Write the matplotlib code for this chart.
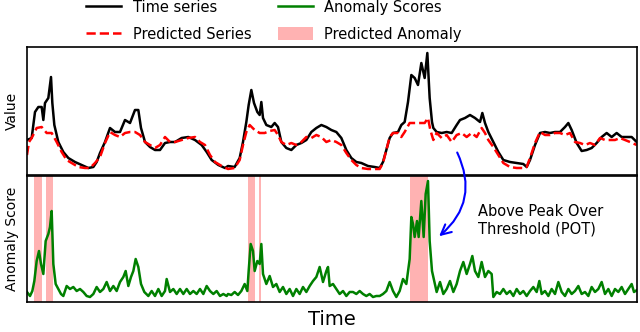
import numpy as np
import matplotlib
matplotlib.use("Agg")
import matplotlib.pyplot as plt
from matplotlib.lines import Line2D
from matplotlib.patches import Patch

# Time series (arbitrary units)
t_true = [0, 14, 24, 34, 44, 49, 54, 64, 72, 76, 82, 94, 109, 124, 144, 164, 184, 199, 209, 219,
          234, 249, 264, 279, 294, 309, 324, 334, 342, 354, 369, 384, 399, 414, 429, 444, 464, 484, 504, 524,
          539, 554, 574, 594,
          603, 623, 638, 648, 658, 665, 673, 681, 691, 698, 703, 708, 718, 733, 743, 753, 763, 778, 793, 808,
          823, 838, 853, 868, 883, 898, 913, 928, 943, 958, 973, 988, 1003, 1023, 1043, 1058, 1068, 1078, 1088, 1098,
          1113, 1123, 1133, 1143, 1153, 1163, 1173, 1183, 1193, 1201, 1208, 1215,
          1219, 1229, 1244, 1259, 1274, 1289, 1299, 1314, 1329, 1344, 1359, 1366, 1374, 1384, 1399, 1414, 1429, 1449,
          1469, 1489, 1499, 1509, 1524, 1539, 1554, 1569, 1584, 1599, 1614, 1624, 1634, 1649, 1664, 1679, 1694, 1709,
          1724, 1739, 1754, 1769, 1784, 1799, 1814, 1829]
v_true = [35, 37, 63, 68, 68, 55, 72, 77, 98, 72, 50, 33, 23, 17, 13, 10, 7, 8, 13, 22,
          33, 47, 43, 43, 55, 52, 65, 65, 47, 33, 28, 25, 25, 32, 33, 33, 37, 38, 35, 30,
          23, 15, 10, 7,
          9, 8, 17, 33, 53, 70, 85, 72, 63, 60, 73, 57, 50, 48, 52, 48, 33, 27, 25, 30,
          32, 35, 43, 47, 50, 48, 45, 43, 37, 25, 17, 13, 12, 9, 8, 7, 13, 25, 37, 42,
          43, 50, 53, 73, 100, 97, 90, 112, 97, 122, 77, 53,
          47, 43, 42, 43, 42, 50, 55, 57, 60, 57, 53, 62, 52, 43, 33, 23, 15, 13,
          12, 11, 8, 15, 30, 42, 43, 42, 43, 43, 48, 52, 45, 32, 24, 25, 27, 32,
          38, 42, 38, 42, 38, 38, 38, 33]

t_pred = [0, 6, 14, 29, 44, 59, 74, 89, 104, 119, 134, 154, 174, 189, 204, 219, 234, 249, 264, 279,
          294, 309, 324, 339, 354, 369, 384, 399, 414, 429, 444, 464, 484, 504, 519, 534, 549, 564, 584,
          603, 623, 638, 648, 658, 668, 683, 698, 713, 728, 743, 753, 763, 778, 793, 808, 823, 838, 853, 868,
          883, 898, 913, 928, 943, 958, 973, 988, 1003, 1023, 1043, 1058, 1068, 1078, 1088, 1098, 1113, 1123, 1133, 1148,
          1163, 1178, 1193, 1203, 1210,
          1219, 1229, 1244, 1259, 1274, 1289, 1304, 1319, 1334, 1349, 1364, 1374, 1384, 1399, 1414, 1429, 1449, 1469,
          1489, 1499, 1509, 1524, 1539, 1554, 1569, 1584, 1599, 1614, 1629, 1644, 1659, 1674, 1689, 1704, 1719, 1734,
          1749, 1764, 1779, 1794, 1809, 1829]
v_pred = [20, 33, 37, 47, 48, 42, 42, 33, 23, 15, 12, 8, 7, 7, 12, 18, 32, 43, 40, 38,
          42, 43, 43, 40, 33, 30, 27, 30, 38, 33, 33, 35, 37, 38, 33, 30, 20, 13, 9,
          6, 7, 15, 30, 43, 50, 45, 42, 42, 44, 45, 40, 33, 30, 32, 30, 33, 38, 37, 40,
          38, 33, 35, 33, 30, 22, 15, 10, 7, 6, 6, 6, 12, 25, 38, 42, 42, 38, 43, 52,
          52, 52, 52, 57, 45,
          35, 42, 37, 40, 33, 40, 42, 38, 42, 38, 47, 42, 35, 28, 20, 12, 8, 7,
          7, 8, 17, 32, 43, 40, 40, 42, 42, 40, 42, 33, 32, 30, 32, 30, 37, 35,
          35, 35, 37, 35, 33, 30]

# Anomaly scores
t_score = [0, 9, 16, 22, 29, 36, 42, 49, 56, 64, 69, 74, 79, 86, 94, 102, 109, 119, 129, 139,
           149, 159, 169, 179, 189, 199, 209, 219, 229, 239, 249, 259, 269, 279, 289, 296, 304, 312, 319, 326,
           334, 342, 352, 364, 374, 384, 394, 404, 414, 419, 429, 439, 449, 459, 469, 479, 489, 499, 509, 519,
           529, 539, 549, 559, 569, 579, 589, 599,
           603, 613, 623, 633, 643, 653, 661, 665, 671, 678, 683, 691, 698, 703, 708, 718, 728, 738, 748, 758,
           768, 778, 788, 798, 808, 818, 828, 838, 848, 858, 868, 878, 888, 898, 903, 908, 918, 928, 938, 948,
           958, 968, 978, 988, 998, 1008, 1018, 1028, 1038, 1048, 1058, 1068, 1078, 1088, 1098, 1108, 1118, 1128, 1138, 1148,
           1153, 1158, 1163, 1170, 1175, 1183, 1190, 1196, 1203, 1208, 1215,
           1219, 1229, 1239, 1249, 1259, 1269, 1279, 1289, 1299, 1309, 1319, 1329, 1336, 1344, 1354, 1364, 1374, 1384,
           1394, 1399, 1409, 1419, 1429, 1439, 1449, 1459, 1469, 1479, 1489, 1499, 1509, 1519, 1529, 1537, 1544, 1554,
           1564, 1574, 1584, 1594, 1604, 1614, 1624, 1634, 1644, 1654, 1664, 1674, 1684, 1694, 1704, 1714, 1724, 1734,
           1744, 1754, 1764, 1774, 1784, 1794, 1804, 1814, 1821, 1830]
v_score = [10, 6, 11, 21, 41, 51, 38, 28, 61, 68, 75, 91, 38, 18, 13, 8, 6, 16, 13, 15,
           11, 13, 10, 6, 5, 8, 15, 10, 13, 20, 11, 16, 11, 20, 25, 31, 16, 25, 31, 43,
           35, 18, 10, 6, 11, 6, 13, 6, 11, 23, 10, 13, 8, 13, 8, 13, 8, 11, 8, 13,
           8, 16, 11, 8, 11, 6, 8, 6,
           8, 7, 10, 7, 11, 18, 11, 31, 58, 51, 31, 41, 38, 58, 28, 18, 26, 15, 18, 10,
           15, 8, 13, 6, 13, 8, 15, 10, 16, 21, 25, 35, 20, 31, 35, 16, 18, 13, 8, 11,
           6, 10, 10, 8, 11, 8, 6, 8, 5, 6, 6, 8, 11, 20, 11, 5, 11, 23, 18, 43,
           85, 78, 65, 81, 65, 101, 65, 108, 121, 61, 31,
           25, 10, 20, 8, 13, 21, 10, 18, 31, 40, 28, 38, 46, 31, 25, 40, 25, 31,
           28, 5, 10, 8, 13, 8, 11, 6, 13, 8, 11, 6, 11, 15, 10, 21, 8, 11,
           6, 13, 8, 20, 10, 6, 13, 8, 11, 16, 8, 10, 6, 15, 10, 13, 20, 8,
           13, 6, 13, 10, 15, 8, 13, 18, 10, 12]

# Predicted anomaly windows (start, end)
anom_start = [21, 57, 663, 695, 1148]
anom_end = [46, 77, 683, 703, 1203]

fig = plt.figure(figsize=(6.4, 3.32), dpi=100)
ax1 = fig.add_axes([27/640, 1-175/332, 610/640, 128/332])
ax2 = fig.add_axes([27/640, 1-302/332, 610/640, 126/332])

ax1.plot(t_true, v_true, color="black", lw=1.8)
ax1.plot(t_pred, v_pred, color="red", lw=1.8, ls="--")
ax1.set_xlim(0, 1830)
ax1.set_ylim(0, 128)
ax1.set_ylabel("Value", fontsize=10, labelpad=6)

ax2.plot(t_score, v_score, color="green", lw=1.8)
for s, e in zip(anom_start, anom_end):
    ax2.axvspan(s, e, color="red", alpha=0.3, lw=0)
ax2.set_xlim(0, 1830)
ax2.set_ylim(0, 126)
ax2.set_ylabel("Anomaly Score", fontsize=10, labelpad=6)
ax2.set_xlabel("Time", fontsize=14, labelpad=6)

for ax in (ax1, ax2):
    ax.set_xticks([])
    ax.set_yticks([])
    for sp in ax.spines.values():
        sp.set_linewidth(1.2)

# curved arrow from the top panel down to the POT region
ax2.annotate("", xy=(1230, 64), xycoords="data",
             xytext=(1287, 25), textcoords=ax1.transData,
             arrowprops=dict(arrowstyle="->", color="blue", lw=1.5,
                             mutation_scale=18,
                             connectionstyle="arc3,rad=-0.4"))
ax2.text(1353, 82, "Above Peak Over\nThreshold (POT)", fontsize=10.5,
         ha="left", va="center")

handles = [Line2D([], [], color="black", lw=1.8),
           Line2D([], [], color="red", lw=1.8, ls="--"),
           Line2D([], [], color="green", lw=1.8),
           Patch(facecolor="red", alpha=0.3, lw=0)]
labels = ["Time series", "Predicted Series", "Anomaly Scores", "Predicted Anomaly"]
fig.legend(handles, labels, loc="upper left", bbox_to_anchor=(86/640, 1.0),
           ncol=2, frameon=False, fontsize=10.5, borderpad=0, borderaxespad=0,
           handlelength=2.4, handleheight=1.0, handletextpad=0.8,
           columnspacing=1.8, labelspacing=0.8)

fig.savefig("out.png", dpi=100)
